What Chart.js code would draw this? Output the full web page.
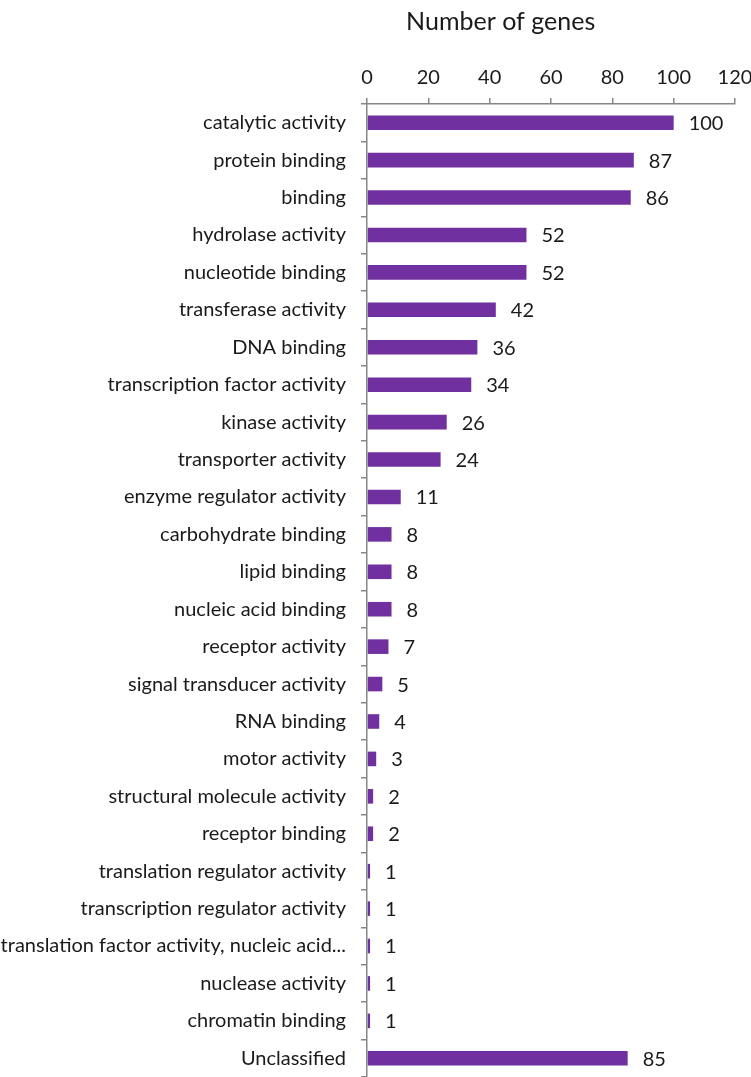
<!DOCTYPE html>
<html>
<head>
<meta charset="utf-8">
<script src="https://cdn.jsdelivr.net/npm/chart.js@4.4.1/dist/chart.umd.min.js"></script>
<style>
  html, body { margin: 0; padding: 0; background: #fff; overflow: hidden; }
  #wrap { width: 751px; height: 1077px; }
</style>
</head>
<body>
<div id="wrap"><canvas id="geneChart" width="751" height="1077"></canvas></div>
<script>
const categories = [
  "catalytic activity", "protein binding", "binding", "hydrolase activity",
  "nucleotide binding", "transferase activity", "DNA binding",
  "transcription factor activity", "kinase activity", "transporter activity",
  "enzyme regulator activity", "carbohydrate binding", "lipid binding",
  "nucleic acid binding", "receptor activity", "signal transducer activity",
  "RNA binding", "motor activity", "structural molecule activity",
  "receptor binding", "translation regulator activity",
  "transcription regulator activity",
  "translation factor activity, nucleic acid...", "nuclease activity",
  "chromatin binding", "Unclassified"
];
const geneCounts = [100, 87, 86, 52, 52, 42, 36, 34, 26, 24, 11, 8, 8, 8, 7, 5, 4, 3, 2, 2, 1, 1, 1, 1, 1, 85];
const xTicks = [0, 20, 40, 60, 80, 100, 120];
const axisTitle = "Number of genes";

const FONT = "Lato, 'Liberation Sans', sans-serif";
const AXIS_GRAY = "#868686";
const TEXT = "#1a1a1a";

// value labels to the right of each bar
const valueLabels = {
  id: "valueLabels",
  afterDatasetsDraw(chart) {
    const ctx = chart.ctx;
    const meta = chart.getDatasetMeta(0);
    ctx.save();
    ctx.font = "20px " + FONT;
    ctx.fillStyle = TEXT;
    ctx.textAlign = "left";
    ctx.textBaseline = "middle";
    meta.data.forEach(function (bar, i) {
      ctx.fillText(String(geneCounts[i]), bar.x + 15, bar.y + 1);
    });
    ctx.restore();
  }
};

// chart title, placed like the spreadsheet original
const topTitle = {
  id: "topTitle",
  afterDraw(chart) {
    const ctx = chart.ctx;
    ctx.save();
    ctx.font = "25px " + FONT;
    ctx.fillStyle = TEXT;
    ctx.textAlign = "center";
    ctx.textBaseline = "middle";
    ctx.fillText(axisTitle, chart.width * 2 / 3, 22);
    ctx.restore();
  }
};

const ctx = document.getElementById("geneChart").getContext("2d");
new Chart(ctx, {
  type: "bar",
  data: {
    labels: categories,
    datasets: [{
      label: axisTitle,
      data: geneCounts,
      backgroundColor: "#7030A0",
      categoryPercentage: 1,
      barPercentage: 0.39
    }]
  },
  options: {
    indexAxis: "y",
    responsive: false,
    animation: false,
    layout: { padding: 0 },
    plugins: {
      legend: { display: false },
      tooltip: { enabled: false }
    },
    scales: {
      x: {
        position: "top",
        min: 0,
        max: 120,
        afterBuildTicks: function (scale) {
          scale.ticks = xTicks.map(v => ({ value: v }));
        },
        afterFit: function (scale) {
          scale.height = 104;
          scale.paddingLeft = 0;
          scale.paddingRight = 16;
        },
        grid: {
          drawOnChartArea: false,
          drawTicks: true,
          tickLength: 6,
          color: AXIS_GRAY,
          lineWidth: 1.5
        },
        border: { display: true, color: AXIS_GRAY, width: 1.5 },
        ticks: {
          color: TEXT,
          padding: 8,
          font: { family: FONT, size: 20 }
        }
      },
      y: {
        afterFit: function (scale) {
          scale.width = 367;
          scale.paddingTop = 0;
          scale.paddingBottom = 0;
        },
        grid: {
          drawOnChartArea: false,
          drawTicks: true,
          tickLength: 6,
          color: AXIS_GRAY,
          lineWidth: 1.5
        },
        border: { display: true, color: AXIS_GRAY, width: 1.5 },
        ticks: {
          color: TEXT,
          padding: 15,
          autoSkip: false,
          font: { family: FONT, size: 20 }
        }
      }
    }
  },
  plugins: [valueLabels, topTitle]
});
</script>
</body>
</html>
